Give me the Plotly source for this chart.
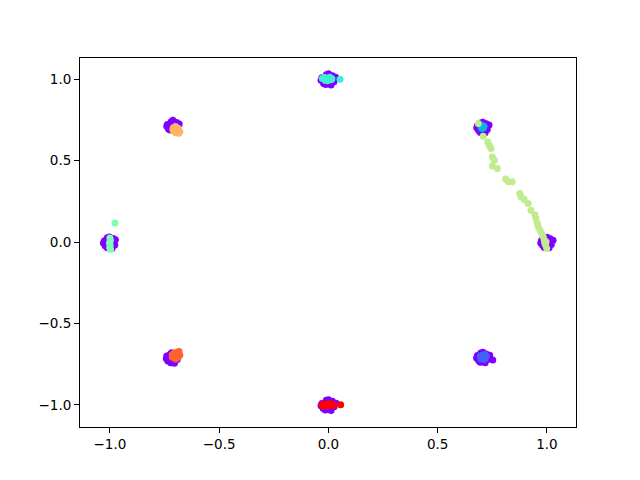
import plotly.graph_objects as go

# class 0 (purple) points around 8 positions on the unit circle
c0_x = [0.975, 1.020, 1.000, 1.010, 0.980, 1.028, 0.990, 1.015, 0.972, 1.005, 0.998, 0.988,
        0.682, 0.727, 0.707, 0.717, 0.687, 0.735, 0.697, 0.722, 0.679, 0.712, 0.705, 0.695,
        -0.030, 0.025, 0.000, 0.012, -0.022, 0.033, -0.010, 0.018, -0.034, 0.006, 0.000, -0.012,
        -0.737, -0.690, -0.712, -0.700, -0.732, -0.683, -0.720, -0.695, -0.740, -0.705, -0.715, -0.725,
        -1.025, -0.978, -1.002, -0.990, -1.022, -0.975, -1.012, -0.985, -1.030, -0.996, -1.000, -1.012,
        -0.740, -0.692, -0.718, -0.705, -0.735, -0.688, -0.725, -0.698, -0.742, -0.710, -0.715, -0.722,
        -0.030, 0.026, 0.000, 0.012, -0.024, 0.035, -0.010, 0.018, -0.034, 0.006, 0.000, -0.014,
        0.682, 0.728, 0.707, 0.717, 0.687, 0.738, 0.697, 0.722, 0.678, 0.712, 0.705, 0.752, 0.695]
c0_y = [0.010, -0.015, 0.030, -0.035, -0.020, 0.012, 0.025, 0.020, -0.005, -0.010, 0.002, -0.033,
        0.717, 0.692, 0.737, 0.672, 0.687, 0.719, 0.732, 0.727, 0.702, 0.697, 0.709, 0.674,
        1.010, 0.985, 1.035, 0.965, 0.975, 1.012, 1.028, 1.022, 0.995, 0.990, 1.000, 0.968,
        0.722, 0.700, 0.748, 0.685, 0.695, 0.725, 0.740, 0.735, 0.712, 0.705, 0.718, 0.688,
        0.008, -0.018, 0.032, -0.038, -0.022, 0.014, 0.026, 0.022, -0.006, -0.010, 0.000, -0.034,
        -0.700, -0.722, -0.680, -0.745, -0.730, -0.700, -0.690, -0.690, -0.715, -0.715, -0.705, -0.742,
        -0.992, -1.012, -0.968, -1.035, -1.022, -0.990, -0.972, -0.978, -1.005, -1.010, -1.000, -1.032,
        -0.697, -0.722, -0.677, -0.742, -0.727, -0.695, -0.682, -0.688, -0.712, -0.712, -0.705, -0.725, -0.738]

c1_x = [0.700, 0.718, 0.708, 0.712, 0.698, 0.722, 0.706, 0.695, 0.716]
c1_y = [-0.705, -0.712, -0.695, -0.722, -0.718, -0.700, -0.710, -0.700, -0.690]

c2_x = [0.698, 0.710, 0.704, 0.702, 0.712]
c2_y = [0.708, 0.702, 0.715, 0.698, 0.712]

c3_x = [-0.028, -0.015, 0.000, 0.012, 0.016, -0.005, -0.020, 0.006, 0.053]
c3_y = [1.005, 0.995, 1.008, 0.998, 1.004, 0.992, 1.012, 1.012, 1.000]

c4_x = [-1.000, -0.998, -1.002, -0.999, -1.001, -0.997, -0.977]
c4_y = [0.025, 0.010, -0.005, -0.020, -0.035, -0.045, 0.117]

c5_x = [0.686, 0.708, 0.729, 0.736, 0.744, 0.750, 0.759, 0.750, 0.773, 0.811, 0.823, 0.841,
        0.876, 0.881, 0.896, 0.914, 0.927, 0.945, 0.950, 0.956, 0.960, 0.968, 0.976, 0.983,
        0.988, 0.994, 0.999, 0.990, 0.996]
c5_y = [0.728, 0.650, 0.615, 0.595, 0.575, 0.523, 0.503, 0.468, 0.452, 0.387, 0.370, 0.370,
        0.299, 0.278, 0.262, 0.237, 0.196, 0.166, 0.145, 0.115, 0.094, 0.074, 0.053, 0.033,
        0.012, -0.018, -0.039, -0.005, 0.002]

c6_x = [-0.710, -0.688, -0.698, -0.680, -0.693, -0.708, -0.700, -0.685, -0.712]
c6_y = [0.702, 0.700, 0.672, 0.680, 0.690, 0.682, 0.710, 0.668, 0.692]

c7_x = [-0.714, -0.695, -0.684, -0.700, -0.688, -0.706, -0.680, -0.715, -0.692]
c7_y = [-0.708, -0.688, -0.672, -0.718, -0.708, -0.682, -0.694, -0.692, -0.676]

c8_x = [-0.030, -0.015, 0.000, 0.015, 0.024, -0.022, 0.008, 0.056]
c8_y = [-1.000, -0.995, -1.005, -0.998, -1.003, -1.008, -0.992, -1.000]

colors = ["#8000ff", "#4062fa", "#00b4ec", "#40ecd4", "#80ffb4",
          "#c0ec8e", "#ffb462", "#ff6232", "#ff0000"]
series = [(c0_x, c0_y), (c1_x, c1_y), (c2_x, c2_y), (c3_x, c3_y), (c4_x, c4_y),
          (c5_x, c5_y), (c6_x, c6_y), (c7_x, c7_y), (c8_x, c8_y)]

tick_vals = [-1.0, -0.5, 0.0, 0.5, 1.0]
tick_text = ["\u22121.0", "\u22120.5", "0.0", "0.5", "1.0"]

fig = go.Figure()
for (xs, ys), col in zip(series, colors):
    fig.add_trace(go.Scatter(x=xs, y=ys, mode="markers",
                             marker=dict(color=col, size=7, line=dict(width=0)),
                             showlegend=False, hoverinfo="skip"))

axis_style = dict(showline=True, linecolor="black", linewidth=1, mirror=True,
                  ticks="outside", ticklen=5, tickwidth=1, tickcolor="black",
                  showgrid=False, zeroline=False,
                  tickvals=tick_vals, ticktext=tick_text,
                  tickfont=dict(family="DejaVu Sans", size=13.5, color="black"))

fig.update_layout(
    width=640, height=480,
    margin=dict(l=72, r=72, t=50, b=61),
    paper_bgcolor="white", plot_bgcolor="white",
    xaxis=dict(range=[-1.137, 1.133], **axis_style),
    yaxis=dict(range=[-1.136, 1.131], **axis_style),
)

fig.write_html("out.html")
